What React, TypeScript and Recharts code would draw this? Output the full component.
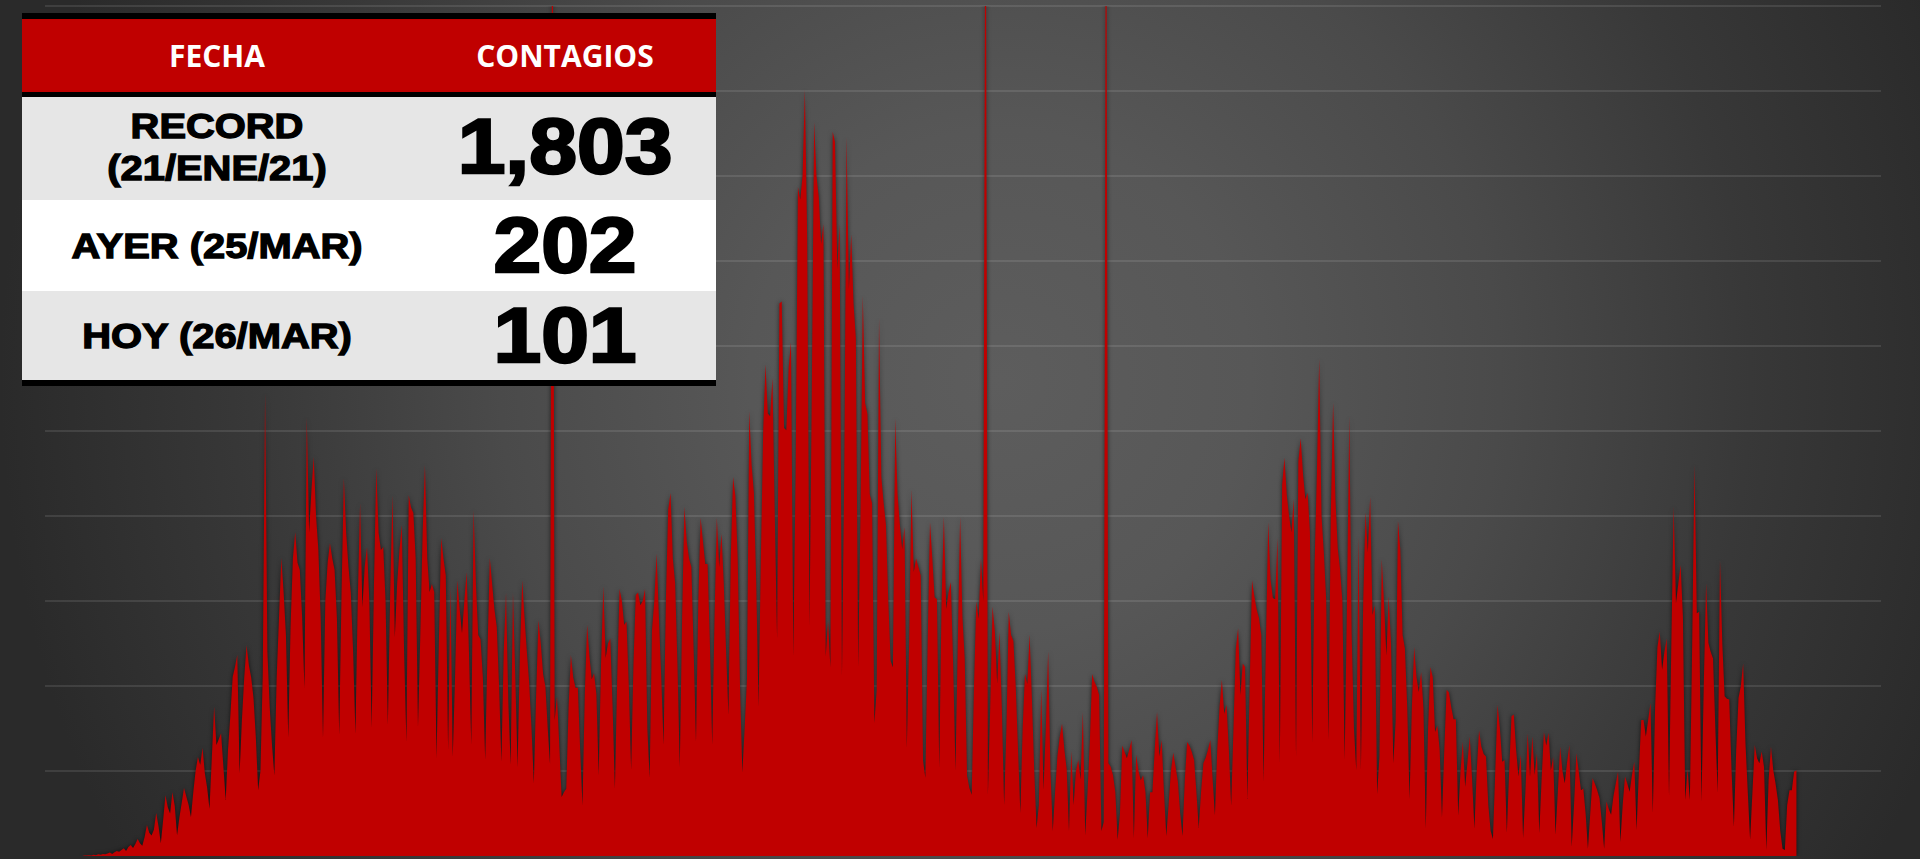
import { AreaChart, Area, XAxis, YAxis, CartesianGrid } from 'recharts';

// contagios diarios, 28/feb/2020 -> 31/dic/2020
const casos2020 = [
  0, 0, 0, 0, 0, 0, 0, 0, 0, 0,
  0, 0, 0, 0, 0, 0, 0, 1, 1, 2,
  1, 3, 2, 4, 3, 5, 4, 6, 8, 5,
  9, 12, 10, 14, 18, 12, 21, 26, 19, 28,
  40, 30, 24, 45, 73, 55, 48, 62, 101, 70,
  30, 85, 143, 115, 100, 150, 118, 49, 90, 125,
  160, 140, 120, 92, 150, 200, 233, 215, 254, 195,
  160, 111, 230, 351, 261, 275, 289, 210, 132, 250,
  330, 421, 445, 473, 195, 320, 420, 496, 449, 420,
  372, 280, 155, 200, 430, 1089, 480, 350, 260, 190,
  420, 560, 701, 620, 520, 278, 540, 700, 762, 690,
  673, 560, 395, 1031, 762, 860, 939, 800, 720, 560,
  277, 600, 690, 736, 700, 673, 560, 285, 620, 889,
  760, 680, 620, 480, 287, 600, 830, 586, 680, 727,
  600, 301, 640, 912, 760, 720, 727, 600, 308, 620,
  849, 515, 640, 720, 779, 480, 268, 849, 820, 807,
  700, 304, 520, 760, 920, 700, 621, 640, 621, 230,
  500, 748, 700, 660, 249, 633, 233, 420, 649, 580,
  524, 600, 668, 480, 261, 814, 640, 520, 510, 420,
  226, 480, 701, 640, 580, 539, 400, 221, 480, 619,
  360, 214, 619, 420, 209, 480, 649, 560, 480, 407,
  300, 171, 380, 555, 500, 428, 398, 300, 216, 2600,
  320, 376, 260, 139, 150, 158, 350, 473, 420, 396,
  396, 250, 119, 380, 544, 470, 416, 430, 380, 190,
  450, 635, 466, 500, 512, 350, 158, 420, 628, 600,
  544, 551, 400, 203, 450, 614, 620, 590, 600, 628,
  299, 184, 531, 600, 712, 560, 420, 261, 600, 815,
  854, 700, 641, 450, 209, 560, 822, 740, 700, 680,
  480, 268, 600, 796, 740, 687, 687, 500, 261, 560,
  796, 680, 758, 640, 480, 332, 700, 892, 847, 700,
  400, 196, 300, 416, 1047, 920, 854, 640,
];

const casos2021 = [
  351, 700, 1000, 1157, 1041, 1035, 1125, 800, 512, 1300,
  1305, 1007, 1002, 1150, 1209, 470, 900, 1574, 1545, 1600,
  1803, 1450, 541, 1100, 1727, 1600, 1550, 1440, 1487, 470,
  553, 444, 1704, 1680, 1381, 1487, 424, 900, 1692, 1334,
  1463, 1300, 1219, 444, 800, 1318, 1066, 1040, 851, 830,
  313, 390, 1266, 892, 830, 779, 600, 459, 444, 1030,
  851, 780, 722, 774, 254, 500, 863, 668, 700, 680,
  660, 224, 184, 500, 786, 700, 609, 604, 207, 600,
  798, 581, 620, 645, 450, 201, 500, 798, 563, 463,
  189, 160, 144, 400, 599, 558, 700, 600, 2600, 144,
  350, 587, 528, 406, 528, 350, 120, 300, 575, 520,
  506, 400, 250, 101, 300, 429, 405, 522, 368, 200,
  66, 120, 394, 156, 300, 482, 200, 59, 150, 235,
  280, 311, 250, 205, 59, 247, 120, 200, 226, 180,
  339, 49, 150, 268, 428, 410, 398, 379, 59, 80,
  2600, 218, 210, 190, 150, 38, 100, 260, 245, 230,
  250, 273, 42, 239, 200, 178, 190, 150, 42, 150,
  150, 250, 339, 234, 273, 150, 47, 120, 200, 243,
  210, 175, 100, 47, 180, 268, 260, 245, 226, 150,
  66, 150, 218, 231, 250, 273, 180, 96, 250, 352,
  415, 335, 356, 250, 118, 300, 487, 536, 379, 453,
  445, 134, 400, 649, 612, 580, 560, 520, 176, 500,
  786, 650, 607, 604, 749, 218, 873, 937, 850, 800,
  762, 840, 233, 928, 983, 900, 840, 855, 762, 266,
  682, 900, 1170, 800, 714, 605, 273, 800, 1067, 840,
  725, 674, 600, 226, 600, 1035, 523, 300, 202, 753,
  202, 600, 809, 714, 845, 567, 590, 146, 233, 699,
  594, 471, 611, 500, 218, 317, 789, 722, 520, 488,
  350, 134, 350, 492, 420, 386, 433, 347, 64, 300,
  445, 421, 292, 307, 250, 91, 250, 391, 385, 350,
  322, 322, 95, 200, 269, 163, 220, 281, 180, 64,
  200, 296, 257, 240, 234, 120, 59, 40, 200, 356,
  300, 222, 226, 55, 200, 329, 333, 250, 187, 238,
  42, 150, 289, 187, 281, 191, 242, 54, 180, 292,
  260, 290, 202, 233, 50, 150, 257, 200, 171, 220,
  261, 22, 120, 242, 200, 155, 159, 100, 17, 100,
  183, 170, 155, 136, 80,
];

// 1/ene/2022 -> 25/mar/2022
const casos2022 = [
  17, 128, 110, 97, 140, 170, 198, 33, 120, 187,
  170, 151, 190, 222, 61, 200, 320, 320, 281, 320,
  360, 101, 350, 492, 528, 438, 480, 512, 140, 500,
  822, 595, 640, 685, 563, 132, 204, 132, 500, 920,
  571, 575, 128, 400, 642, 501, 480, 465, 300, 148,
  696, 500, 376, 370, 368, 200, 69, 250, 372, 400,
  453, 266, 150, 38, 150, 261, 230, 218, 246, 210,
  14, 180, 257, 202, 170, 132, 60, 17, 14, 120,
  155, 155, 198, 202,
];

const yTicks = [0, 200, 400, 600, 800, 1000, 1200, 1400, 1600, 1800, 2000];

const encabezados = ['FECHA', 'CONTAGIOS'];
const filas = [
  { fecha: ['RECORD', '(21/ENE/21)'], contagios: '1,803' },
  { fecha: ['AYER (25/MAR)'], contagios: '202' },
  { fecha: ['HOY (26/MAR)'], contagios: '101' },
];

const data = [...casos2020, ...casos2021, ...casos2022].map((v, i) => ({ dia: i, casos: v }));

const ROJO = '#c00000';
const sans = '"Liberation Sans", Arial, sans-serif';

function Tabla() {
  const left = 22;
  const w = 694;
  const colFecha = 217;
  const colCont = 565;
  const rowBoxes = [
    { y: 97, h: 103, fill: '#e6e6e6' },
    { y: 200, h: 91, fill: '#ffffff' },
    { y: 291, h: 89, fill: '#e6e6e6' },
  ];
  const labelBase = [[138, 180], [258], [348]];
  const numBase = [173, 272, 362];

  return (
    <svg width={1920} height={859} style={{ position: 'absolute', left: 0, top: 0 }}>
      <rect x={left} y={13} width={w} height={6} fill="#000" />
      <rect x={left} y={19} width={w} height={73} fill={ROJO} />
      <rect x={left} y={92} width={w} height={5} fill="#000" />
      {rowBoxes.map((r, i) => (
        <rect key={i} x={left} y={r.y} width={w} height={r.h} fill={r.fill} />
      ))}
      <rect x={left} y={380} width={w} height={6} fill="#000" />

      {encabezados.map((t, i) => (
        <text
          key={t}
          x={i === 0 ? colFecha : colCont}
          y={67}
          textAnchor="middle"
          fill="#fff"
          fontFamily='"Open Sans", sans-serif'
          fontWeight={700}
          fontSize={30}
        >
          {t}
        </text>
      ))}

      {filas.map((f, i) => (
        <g key={i}>
          {f.fecha.map((line, j) => (
            <text
              key={j}
              transform={`translate(${colFecha},${labelBase[i][j]}) scale(1.14,1)`}
              textAnchor="middle"
              fill="#000"
              stroke="#000"
              strokeWidth={1.3}
              fontFamily={sans}
              fontWeight={700}
              fontSize={35}
            >
              {line}
            </text>
          ))}
          <text
            transform={`translate(${colCont},${numBase[i]}) scale(1.1,1)`}
            textAnchor="middle"
            fill="#000"
            stroke="#000"
            strokeWidth={2.5}
            fontFamily={sans}
            fontWeight={700}
            fontSize={78}
          >
            {f.contagios}
          </text>
        </g>
      ))}
    </svg>
  );
}

export default function App() {
  return (
    <div
      style={{
        position: 'absolute',
        left: 0,
        top: 0,
        width: 1920,
        height: 859,
        overflow: 'hidden',
        background:
          'radial-gradient(ellipse 1000px 1000px at 1000px 380px, #5d5d5d 0%, #575757 25%, #4a4a4a 50%, #383838 75%, #2a2a2a 100%)',
      }}
    >
      <style>{`.recharts-area-area { filter: drop-shadow(0px 0px 2px rgba(0,0,0,0.65)); }`}</style>
      <AreaChart
        width={1920}
        height={859}
        data={data}
        margin={{ top: 6, right: 39, bottom: 3, left: 45 }}
      >
        <CartesianGrid
          vertical={false}
          horizontalValues={yTicks}
          stroke="rgba(255,255,255,0.1)"
          strokeWidth={2}
        />
        <XAxis type="number" dataKey="dia" domain={[0, 792.5]} hide />
        <YAxis domain={[0, 2000]} ticks={yTicks} allowDataOverflow hide width={0} />
        <Area
          type="linear"
          dataKey="casos"
          fill={ROJO}
          fillOpacity={1}
          stroke="none"
          isAnimationActive={false}
        />
      </AreaChart>
      <Tabla />
    </div>
  );
}
